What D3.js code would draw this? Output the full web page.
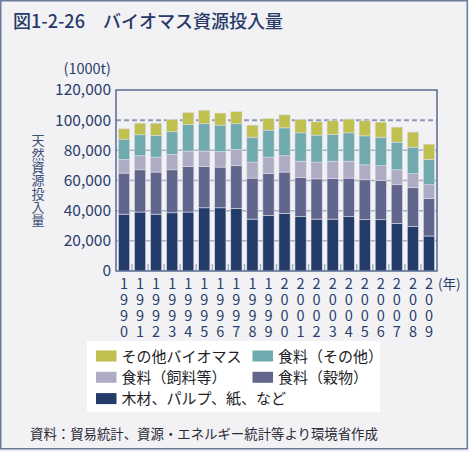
<!DOCTYPE html>
<html><head><meta charset="utf-8">
<script src="https://cdn.jsdelivr.net/npm/d3@7"></script>
<style>
html,body{margin:0;padding:0;background:#f2f2f5;}
svg{display:block;font-family:"Noto Sans CJK JP","Noto Sans",sans-serif;}
.vt{writing-mode:vertical-rl;text-orientation:upright;}
</style></head>
<body>
<svg id="c" width="469" height="452"></svg>
<script>
const years = ["1990","1991","1992","1993","1994","1995","1996","1997","1998","1999","2000","2001","2002","2003","2004","2005","2006","2007","2008","2009"];
// values in 1000t
const wood      = [37700,39100,37700,38600,39100,41900,41900,41500,34400,36900,38200,36000,34400,34400,36000,34000,34000,31600,29400,23200];
const grain     = [27200,28000,27900,28500,30200,27400,27000,28300,27200,27800,27400,26000,26700,27000,25600,26500,26000,25600,25800,24900];
const feed      = [9100,9300,9900,10200,10200,10200,10200,10800,10600,10800,10800,10800,11100,11400,11200,9900,9800,9900,9300,9100];
const foodOther = [13400,13900,14300,15000,17600,18100,17600,17000,16500,17900,18500,18800,17900,17700,18800,19200,18900,18300,17600,16800];
const otherBio  = [6900,7700,8200,8100,8000,9000,8000,8100,8000,7700,8600,8800,8800,9100,9100,10000,10000,10000,10000,10100];
const yTicks = [0,20000,40000,60000,80000,100000,120000];

const seriesKeys = ["wood","grain","feed","foodOther","otherBio"];
const seriesNames = {wood:"木材、パルプ、紙、など",grain:"食料（穀物）",feed:"食料（飼料等）",foodOther:"食料（その他）",otherBio:"その他バイオマス"};
const colors = {wood:"#243c6a",grain:"#62668c",feed:"#aeacc5",foodOther:"#6eaaae",otherBio:"#bfc04e"};

const table = years.map((y,i)=>({year:y,wood:wood[i],grain:grain[i],feed:feed[i],foodOther:foodOther[i],otherBio:otherBio[i]}));
const stack = d3.stack().keys(seriesKeys)(table);

const svg = d3.select("#c");
const L=116,R=437,T=90,B=271;
const x = d3.scaleBand().domain(years).range([L,R]).paddingInner(0.3).paddingOuter(0.15);
const y = d3.scaleLinear().domain([0,120000]).range([B,T]);

// outer border
svg.append("rect").attr("x",0.75).attr("y",0.75).attr("width",466.5).attr("height",448)
  .attr("fill","#f2f2f5").attr("stroke","#6a7ba0").attr("stroke-width",1.5);

// title
svg.append("text").attr("x",13).attr("y",28).attr("font-size",18).attr("font-weight",500)
  .attr("fill","#27396a").text("図1-2-26　バイオマス資源投入量");

// gridlines
svg.append("g").selectAll("line").data(yTicks.filter(t=>t>0&&t<120000)).join("line")
  .attr("x1",L).attr("x2",R).attr("y1",d=>y(d)).attr("y2",d=>y(d))
  .attr("stroke",d=>d===100000?"#8e98b6":"#a9b0c6")
  .attr("stroke-width",d=>d===100000?2:1.5)
  .attr("stroke-dasharray",d=>d===100000?"5,3":null);

// bars
svg.append("g").selectAll("g").data(stack).join("g")
  .attr("fill",d=>colors[d.key])
  .selectAll("rect").data(d=>d).join("rect")
  .attr("x",d=>x(d.data.year)).attr("width",x.bandwidth())
  .attr("y",d=>y(d[1])).attr("height",d=>y(d[0])-y(d[1]))
  .attr("stroke","#dcdce6").attr("stroke-width",0.6);

// x inner ticks between bars
const bounds = years.slice(1).map(yr=>x(yr)-x.step()*x.paddingInner()/2);
svg.append("g").selectAll("line").data(bounds).join("line")
  .attr("x1",d=>d).attr("x2",d=>d).attr("y1",B).attr("y2",B-7)
  .attr("stroke","#a9b0c6").attr("stroke-width",1.5);

// frame
svg.append("rect").attr("x",L).attr("y",T).attr("width",R-L).attr("height",B-T)
  .attr("fill","none").attr("stroke","#5b6a93").attr("stroke-width",1.5);

// y axis labels
const yAxis = d3.axisLeft(y).tickValues(yTicks).tickSize(0).tickPadding(5)
  .tickFormat(d3.format(","));
const ga = svg.append("g").attr("transform",`translate(${L},0)`).call(yAxis);
ga.select(".domain").remove();
ga.selectAll("text").attr("font-size",15.5).attr("fill","#2b3d6b")
  .attr("font-family","'Noto Sans CJK JP',sans-serif");

svg.append("text").attr("x",111).attr("y",74).attr("text-anchor","end")
  .attr("font-size",14.5).attr("fill","#2b3d6b").text("(1000t)");

// y title vertical
svg.append("text").attr("class","vt").attr("x",38).attr("y",134)
  .attr("font-size",13).attr("letter-spacing",0.3).attr("fill","#3a4d78").text("天然資源投入量");

// x labels stacked digits (vertical text)
svg.append("g").selectAll("text").data(years).join("text")
  .attr("class","vt")
  .attr("x",d=>x(d)+x.bandwidth()/2).attr("y",276)
  .attr("font-size",14.5).attr("letter-spacing",1.5).attr("fill","#2b3d6b").text(d=>d);
svg.append("text").attr("x",438).attr("y",289).attr("font-size",13.5).attr("fill","#2b3d6b").text("(年)");

// legend
svg.append("rect").attr("x",87).attr("y",341).attr("width",293).attr("height",71).attr("fill","#ffffff");
const legendItems = [
  {k:"otherBio",col:0,row:0},{k:"foodOther",col:1,row:0},
  {k:"feed",col:0,row:1},{k:"grain",col:1,row:1},
  {k:"wood",col:0,row:2}
];
const lg = svg.append("g");
legendItems.forEach(it=>{
  const lx = it.col===0?96:252.5, ly = 356+it.row*21.3;
  lg.append("rect").attr("x",lx).attr("y",ly-5.5).attr("width",20.5).attr("height",11).attr("fill",colors[it.k]);
  lg.append("text").attr("x",lx+25.5).attr("y",ly+5.5).attr("font-size",15).attr("fill","#1e1e28").text(seriesNames[it.k]);
});

// source
svg.append("text").attr("x",30).attr("y",439).attr("font-size",13.4).attr("fill","#2a2a35")
  .text("資料：貿易統計、資源・エネルギー統計等より環境省作成");
</script>
</body></html>
